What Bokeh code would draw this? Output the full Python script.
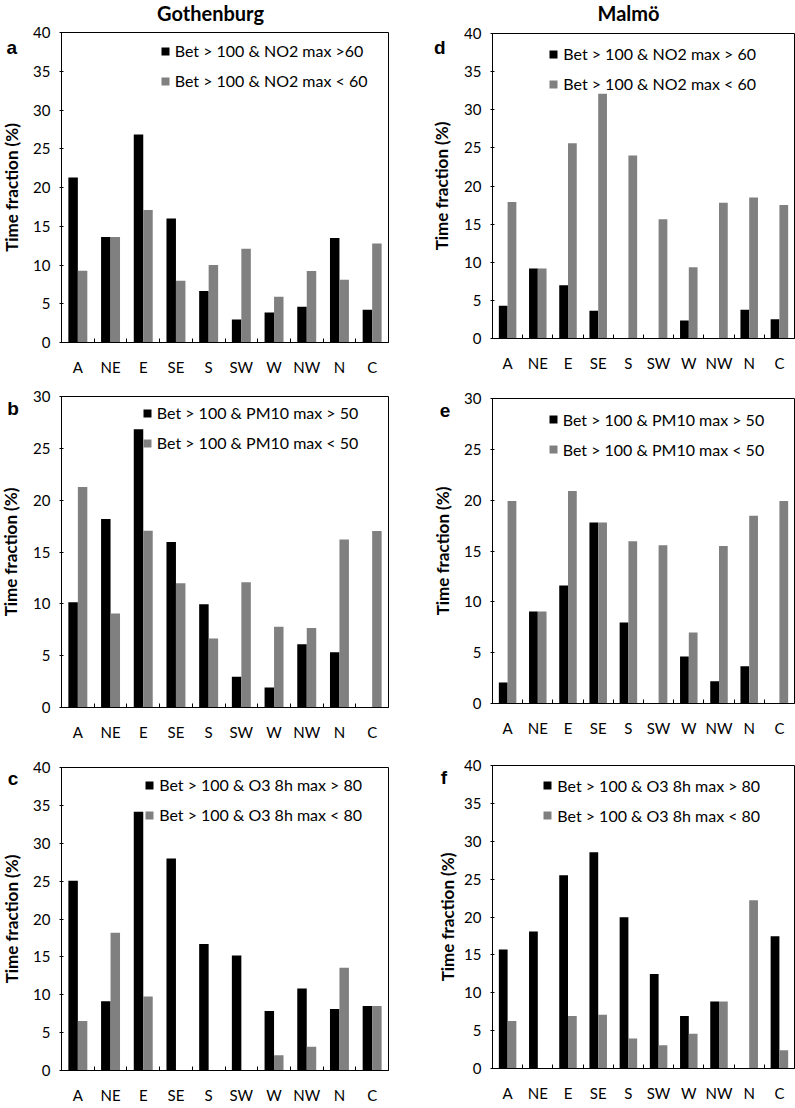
from bokeh.plotting import figure
from bokeh.models import Legend, LegendItem, Label, Title, FixedTicker, CustomJSTickFormatter, Range1d, ColumnDataSource
from bokeh.layouts import row, column
from bokeh.transform import dodge
from bokeh.embed import file_html
from bokeh.resources import INLINE

directions = ["A", "NE", "E", "SE", "S", "SW", "W", "NW", "N", "C"]

# Gothenburg
got_no2_high = [21.3, 13.6, 26.85, 16.0, 6.64, 2.97, 3.88, 4.6, 13.5, 4.22]
got_no2_low = [9.27, 13.6, 17.1, 7.97, 10.0, 12.1, 5.9, 9.22, 8.1, 12.76]
got_pm10_high = [10.16, 18.18, 26.84, 15.97, 9.97, 2.97, 1.92, 6.1, 5.34, 0.0]
got_pm10_low = [21.28, 9.07, 17.06, 11.98, 6.65, 12.08, 7.8, 7.67, 16.2, 17.03]
got_o3_high = [25.04, 9.13, 34.17, 28.0, 16.7, 15.17, 7.87, 10.83, 8.13, 8.52]
got_o3_low = [6.52, 18.2, 9.78, 0.0, 0.0, 0.0, 2.0, 3.13, 13.57, 8.52]

# Malmö
mal_no2_high = [4.28, 9.18, 7.0, 3.63, 0.0, 0.0, 2.36, 0.0, 3.76, 2.54]
mal_no2_low = [17.9, 9.18, 25.6, 32.1, 24.0, 15.65, 9.36, 17.8, 18.5, 17.5]
mal_pm10_high = [2.07, 9.05, 11.6, 17.8, 7.97, 0.0, 4.62, 2.2, 3.67, 0.0]
mal_pm10_low = [19.93, 9.05, 20.9, 17.8, 15.97, 15.57, 6.98, 15.5, 18.46, 19.93]
mal_o3_high = [15.7, 18.1, 25.5, 28.55, 19.96, 12.46, 6.93, 8.86, 0.0, 17.46]
mal_o3_low = [6.27, 0.0, 6.93, 7.1, 3.95, 3.07, 4.6, 8.86, 22.2, 2.41]

FONT = "Lato"
BLACK = "#000000"
GRAY = "#808080"


def panel(high, low, lab_high, lab_low, ymax, letter, letter_xy, width, height,
          bl, br, bt, bb, legend_xy, title=None, title_xy=None):
    p = figure(width=width, height=height, x_range=Range1d(0, len(directions)),
               y_range=Range1d(0, ymax), output_backend="svg", toolbar_location=None,
               min_border_left=bl, min_border_right=br, min_border_top=bt,
               min_border_bottom=bb)
    p.xgrid.visible = False
    p.ygrid.visible = False
    p.outline_line_color = "black"
    p.outline_line_width = 1
    p.outline_line_alpha = 1
    p.background_fill_color = "white"
    p.border_fill_color = "white"

    centers = [i + 0.5 for i in range(len(directions))]
    src = ColumnDataSource(dict(x=centers, high=high, low=low))
    r1 = p.vbar(x=dodge("x", -0.145), width=0.29, top="high", bottom=0, source=src,
                fill_color=BLACK, line_color=None)
    r2 = p.vbar(x=dodge("x", 0.145), width=0.29, top="low", bottom=0, source=src,
                fill_color=GRAY, line_color=None)

    xa = p.xaxis[0]
    xa.ticker = FixedTicker(ticks=centers, minor_ticks=list(range(1, len(directions))))
    xa.formatter = CustomJSTickFormatter(args=dict(labels=directions),
                                         code="return labels[Math.floor(tick)];")
    xa.major_tick_line_color = None
    xa.major_tick_in = 0
    xa.major_tick_out = 0
    xa.minor_tick_in = 4
    xa.minor_tick_out = 0
    xa.minor_tick_line_color = "black"
    xa.axis_line_color = "black"
    xa.major_label_text_font = FONT
    xa.major_label_text_font_size = "15px"
    xa.major_label_text_color = "black"
    xa.major_label_standoff = 15

    ya = p.yaxis[0]
    ya.ticker = FixedTicker(ticks=list(range(0, ymax + 1, 5)))
    ya.major_tick_in = 2
    ya.major_tick_out = 2
    ya.major_tick_line_color = "black"
    ya.minor_tick_line_color = None
    ya.axis_line_color = "black"
    ya.major_label_text_font = FONT
    ya.major_label_text_font_size = "15px"
    ya.major_label_text_color = "black"
    ya.major_label_standoff = 9

    legend = Legend(items=[LegendItem(label=lab_high, renderers=[r1]),
                           LegendItem(label=lab_low, renderers=[r2])],
                    location=legend_xy, glyph_width=10, glyph_height=10,
                    label_height=24, spacing=6, padding=0, margin=0,
                    border_line_color=None, background_fill_alpha=0,
                    label_standoff=5, label_text_font=FONT,
                    label_text_font_size="16px", label_text_color="black")
    p.add_layout(legend)

    # panel letter (left side panel, between tick labels and axis title)
    p.add_layout(Label(x=letter_xy[0], y=letter_xy[1], x_units="screen", y_units="screen",
                       text=letter, text_font="Liberation Sans", text_font_style="bold",
                       text_font_size="19px", text_align="center",
                       text_baseline="alphabetic", text_color="black"), "left")
    # y axis title
    p.add_layout(Title(text="Time fraction (%)", align="center", standoff=-5, offset=0,
                       text_font=FONT, text_font_style="bold", text_font_size="17px",
                       text_color="black"), "left")
    if title:
        p.add_layout(Label(x=title_xy[0], y=title_xy[1], x_units="screen", y_units="screen",
                           text=title, text_font=FONT, text_font_style="bold",
                           text_font_size="20px", text_align="center",
                           text_baseline="middle", text_color="black"), "above")
    return p


LW, RW = 395, 400
pa = panel(got_no2_high, got_no2_low, "Bet > 100 & NO2 max >60", "Bet > 100 & NO2 max < 60",
           40, "a", (-7.7, 294.7), LW, 378, 61, 7, 32, 36, (98.7, 249.5),
           "Gothenburg", (149, 20))
pb = panel(got_pm10_high, got_pm10_low, "Bet > 100 & PM10 max > 50", "Bet > 100 & PM10 max < 50",
           30, "b", (-5.4, 299), LW, 365, 61, 7, 18, 34, (80.8, 252.3))
pc = panel(got_o3_high, got_o3_low, "Bet > 100 & O3 8h max > 80", "Bet > 100 & O3 8h max < 80",
           40, "c", (-6.4, 292), LW, 363, 61, 7, 24, 35, (83.2, 243.5))

pd = panel(mal_no2_high, mal_no2_low, "Bet > 100 & NO2 max > 60", "Bet > 100 & NO2 max < 60",
           40, "d", (-9.7, 291.3), RW, 374, 97, 1, 33, 36, (56.3, 242.3),
           "Malmö", (136, 21))
pe = panel(mal_pm10_high, mal_pm10_low, "Bet > 100 & PM10 max > 50", "Bet > 100 & PM10 max < 50",
           30, "e", (-5.4, 293), RW, 367, 97, 1, 24, 38, (55.7, 241.7))
pf = panel(mal_o3_high, mal_o3_low, "Bet > 100 & O3 8h max > 80", "Bet > 100 & O3 8h max < 80",
           40, "f", (-11.7, 291.3), RW, 365, 97, 1, 24, 38, (50.3, 241))

layout = row(column(pa, pb, pc, spacing=0), column(pd, pe, pf, spacing=0), spacing=0)

open("out.html", "w").write(file_html(layout, INLINE))
